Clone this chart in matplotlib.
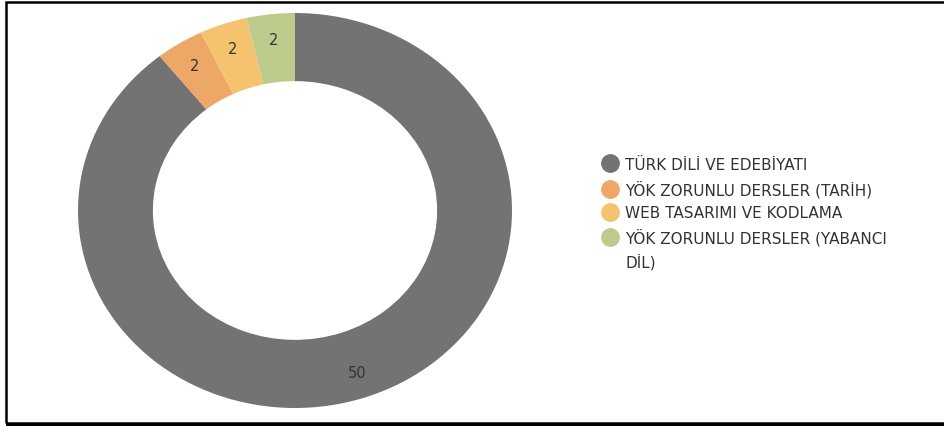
import matplotlib
matplotlib.use("agg")
import matplotlib.pyplot as plt
from matplotlib.lines import Line2D
from matplotlib.patches import Rectangle

# Data
categories = ["TÜRK DİLİ VE EDEBİYATI", "YÖK ZORUNLU DERSLER (TARİH)",
              "WEB TASARIMI VE KODLAMA", "YÖK ZORUNLU DERSLER (YABANCI", "DİL)"]
values = [50, 2, 2, 2]
colors = ["#737373", "#EDA868", "#F5C26D", "#BCCB8B"]

plt.rcParams['font.family'] = ['DejaVu Sans']

fig = plt.figure(figsize=(9.44, 4.27), dpi=100)
fig.patch.set_facecolor("white")

# donut axes, stretched like the original (not equal aspect)
ax = fig.add_axes([78 / 944, 18 / 427, 434 / 944, 395 / 427])
wedges, texts = ax.pie(values, colors=colors, startangle=90, counterclock=False,
                       radius=1.0, labels=[str(v) for v in values],
                       labeldistance=0.87,
                       wedgeprops=dict(width=0.345, linewidth=0),
                       textprops=dict(color="#333333", fontsize=10.5))
for t in texts:
    t.set_ha("center")
    t.set_va("center")
ax.set_aspect("auto")
ax.set_xlim(-1, 1)
ax.set_ylim(-1, 1)
ax.axis("off")

# legend (last label wraps onto a second row without a marker)
handles = [Line2D([0], [0], marker='o', linestyle='', markersize=12.5,
                  markerfacecolor=c, markeredgecolor=c) for c in colors]
handles.append(Line2D([0], [0], linestyle='', marker=''))
leg = fig.legend(handles, categories, loc="upper left",
                 bbox_to_anchor=(594 / 944, 1 - 150 / 427), frameon=False,
                 fontsize=11, handletextpad=0.45, labelspacing=0.52,
                 handlelength=1.1, borderpad=0)
for t in leg.get_texts():
    t.set_color("#333333")

# outer frame
fig.patches.append(Rectangle((6 / 944, 3 / 427), 1.0, 421 / 427,
                             transform=fig.transFigure, fill=False,
                             edgecolor="black", linewidth=1.8))
fig.patches.append(Rectangle((6 / 944, 2 / 427), 1.0, 0.0,
                             transform=fig.transFigure, fill=False,
                             edgecolor="black", linewidth=2.0))

fig.savefig("out.png", dpi=100)
